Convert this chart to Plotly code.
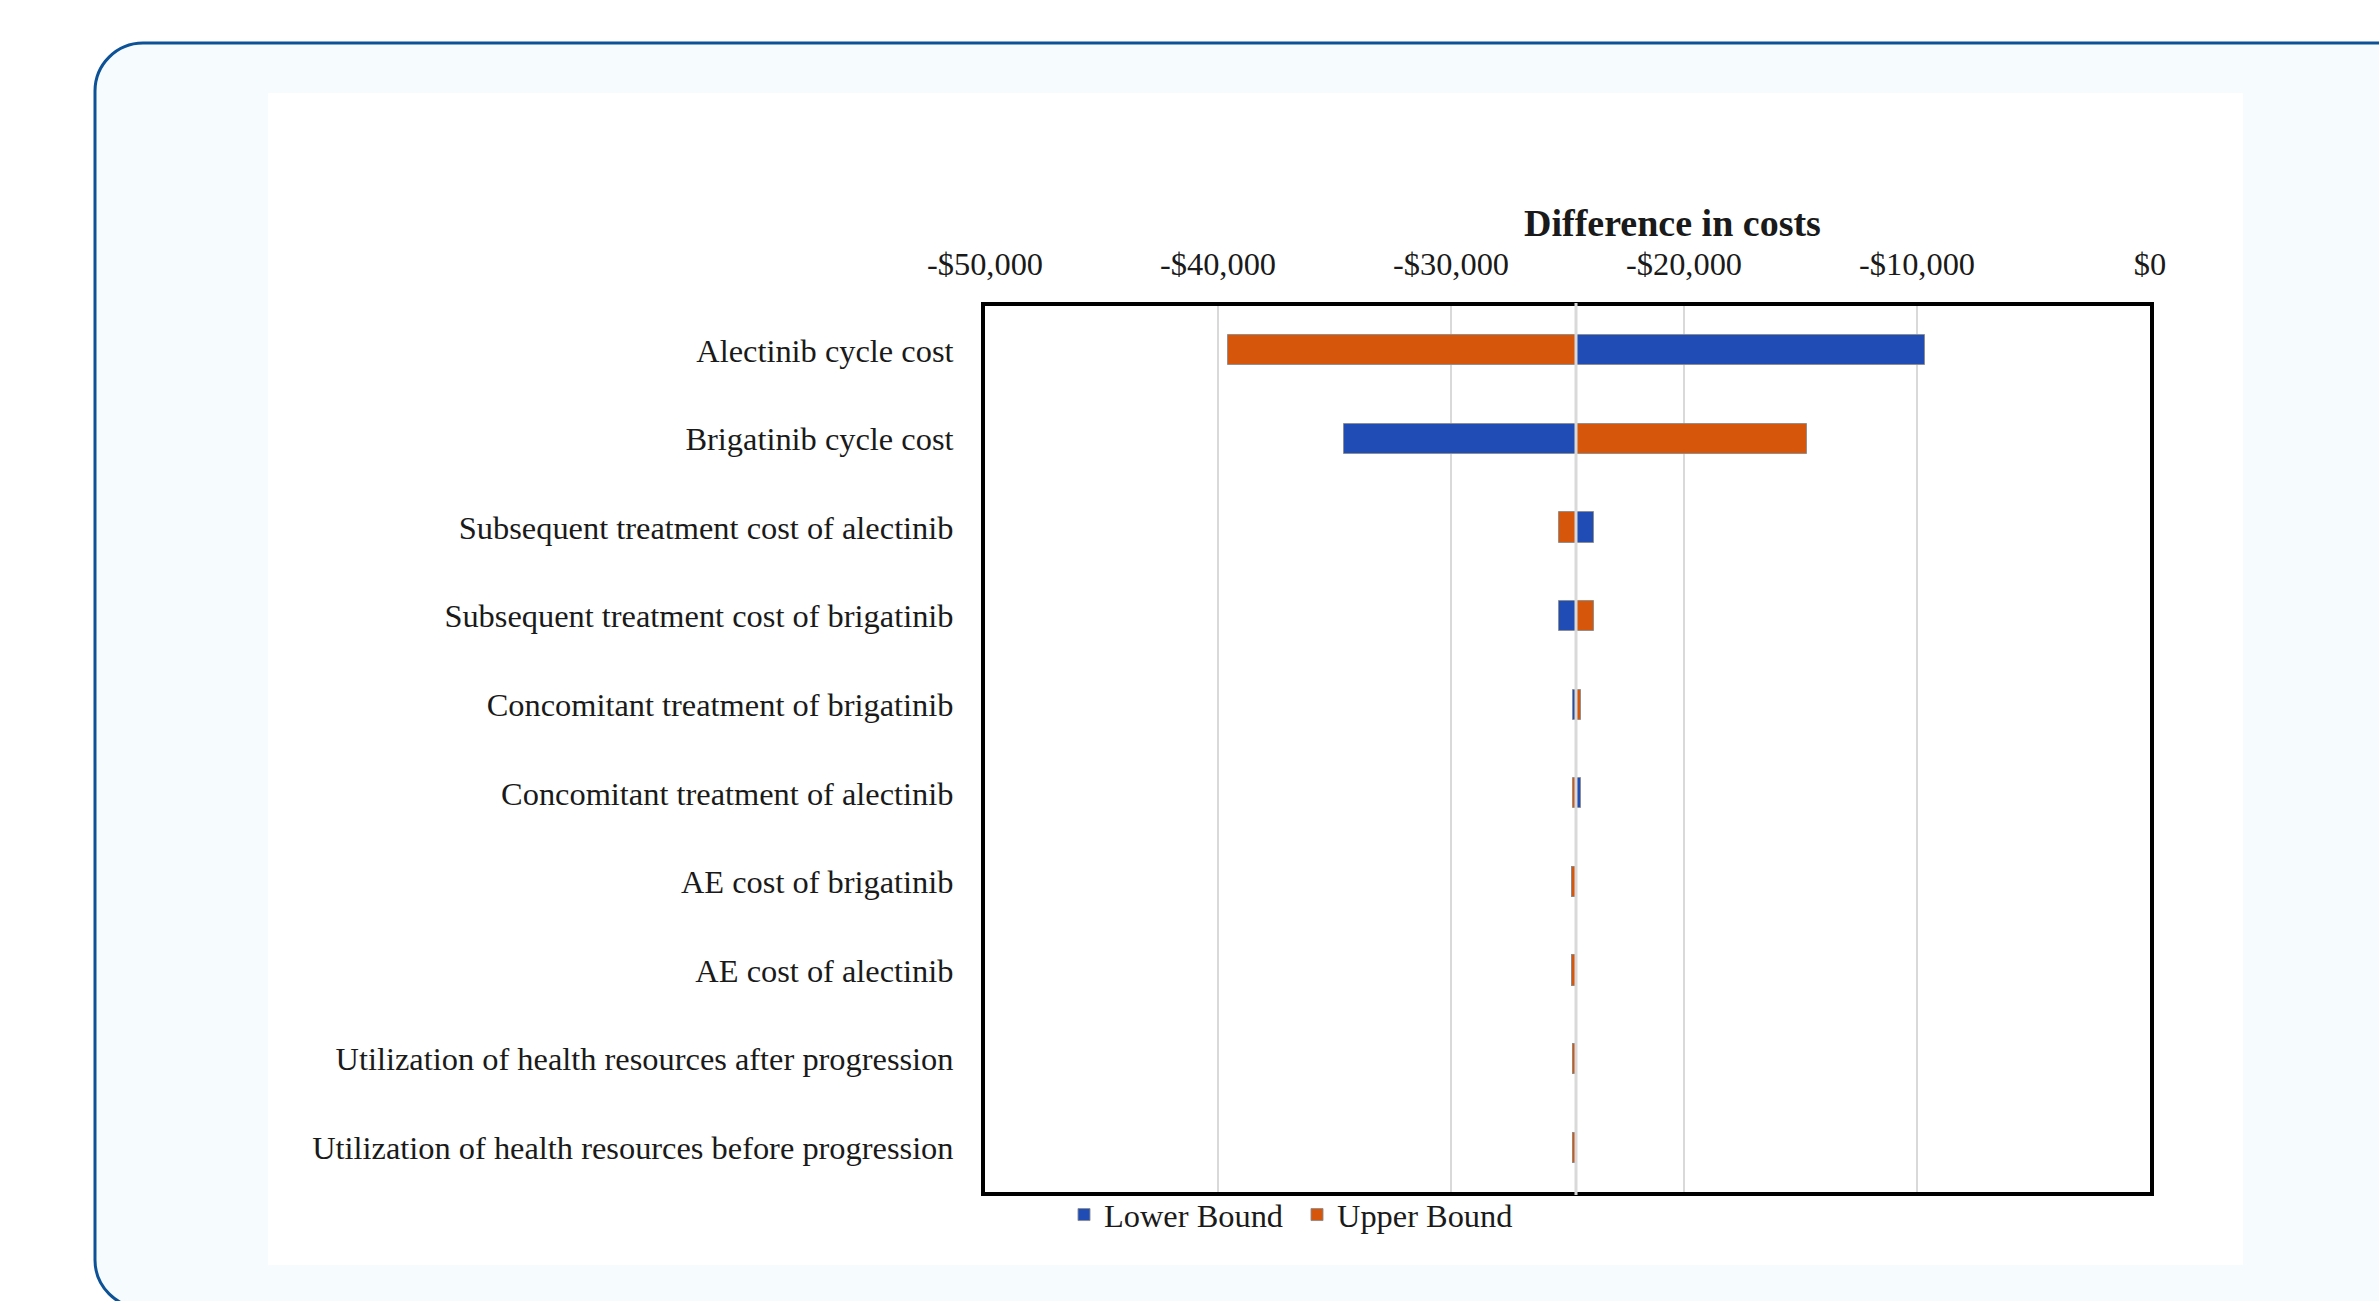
import plotly.graph_objects as go

# ---- data -------------------------------------------------------------
parameters = [
    "Alectinib cycle cost",
    "Brigatinib cycle cost",
    "Subsequent treatment cost of alectinib",
    "Subsequent treatment cost of brigatinib",
    "Concomitant treatment of brigatinib",
    "Concomitant treatment of alectinib",
    "AE cost of brigatinib",
    "AE cost of alectinib",
    "Utilization of health resources after progression",
    "Utilization of health resources before progression",
]
base_case = -24635  # base-case difference in costs
lower_bound = [-9660, -34590, -23880, -25380, -24780, -24440, -24820, -24820, -24760, -24760]
upper_bound = [-39590, -14720, -25380, -23880, -24440, -24780, -24800, -24800, -24750, -24750]

tick_values = [-50000, -40000, -30000, -20000, -10000, 0]
tick_labels = ["-$50,000", "-$40,000", "-$30,000", "-$20,000", "-$10,000", "$0"]

# ---- page geometry (pixels) -----------------------------------------
W, H = 2379, 1301


def px(x):
    return x / W


def py(y):
    return 1 - y / H


FONT = "Liberation Serif, Times New Roman, serif"
TEXT = "#1A1A1A"
BLUE = "#1F4DB5"
ORANGE = "#D6560C"

fig = go.Figure()

fig.add_trace(go.Bar(
    name="Lower Bound",
    y=parameters,
    x=[v - base_case for v in lower_bound],
    base=base_case,
    orientation="h",
    width=0.34,
    marker=dict(color=BLUE, line=dict(color="rgba(140,140,140,0.9)", width=1)),
))
fig.add_trace(go.Bar(
    name="Upper Bound",
    y=parameters,
    x=[v - base_case for v in upper_bound],
    base=base_case,
    orientation="h",
    width=0.34,
    marker=dict(color=ORANGE, line=dict(color="rgba(140,140,140,0.9)", width=1)),
))

# rounded panel behind the chart
L, T, R, B, r = 95, 43, 2430, 1308, 48
k = 0.55 * r
panel_path = (
    f"M {px(L)},{py(T + r)} "
    f"C {px(L)},{py(T + r - k)} {px(L + r - k)},{py(T)} {px(L + r)},{py(T)} "
    f"L {px(R)},{py(T)} L {px(R)},{py(B)} L {px(L + r)},{py(B)} "
    f"C {px(L + r - k)},{py(B)} {px(L)},{py(B - r + k)} {px(L)},{py(B - r)} Z"
)

shapes = [
    dict(type="path", xref="paper", yref="paper", path=panel_path,
         fillcolor="#F6FCFD", line=dict(color="#0D5296", width=3), layer="below"),
    dict(type="rect", xref="paper", yref="paper",
         x0=px(268), x1=px(2243), y0=py(1265), y1=py(93),
         fillcolor="#FFFFFF", line=dict(width=0), layer="below"),
    # base-case reference line
    dict(type="line", xref="x", yref="paper",
         x0=base_case, x1=base_case, y0=py(1195), y1=py(303),
         line=dict(color="#D9D9D9", width=3), layer="above"),
]

fig.update_layout(
    width=W, height=H,
    autosize=False,
    margin=dict(l=0, r=0, t=0, b=0, pad=0, autoexpand=False),
    paper_bgcolor="#FFFFFF",
    plot_bgcolor="#FFFFFF",
    barmode="overlay",
    bargap=0,
    font=dict(family=FONT, size=32.4, color=TEXT),
    shapes=shapes,
    showlegend=True,
    legend=dict(
        orientation="h",
        x=px(1297), xanchor="center",
        y=py(1215), yanchor="middle",
        bgcolor="rgba(0,0,0,0)",
        font=dict(family=FONT, size=32.4, color=TEXT),
        itemwidth=30,
        entrywidth=188,
        traceorder="normal",
    ),
    xaxis=dict(
        domain=[px(985), px(2150)],
        side="top",
        range=[-50000, 0],
        tickvals=tick_values,
        ticktext=tick_labels,
        showgrid=True,
        gridcolor="#D9D9D9",
        gridwidth=2,
        zeroline=False,
        showline=True,
        linecolor="#000000",
        linewidth=4,
        mirror=True,
        ticks="",
        ticklabelstandoff=14,
        automargin=False,
        tickfont=dict(family=FONT, size=32.4, color=TEXT),
    ),
    yaxis=dict(
        domain=[py(1192), py(306)],
        type="category",
        autorange="reversed",
        showgrid=False,
        zeroline=False,
        showline=True,
        linecolor="#000000",
        linewidth=4,
        mirror=True,
        ticks="",
        ticklabelstandoff=21,
        automargin=False,
        tickfont=dict(family=FONT, size=32.4, color=TEXT),
    ),
    annotations=[
        dict(text="<b>Difference in costs</b>", xref="paper", yref="paper",
             x=px(1672), y=py(223), xanchor="center", yanchor="middle",
             showarrow=False, font=dict(family=FONT, size=38, color=TEXT)),
    ],
)

fig.write_html("out.html")
